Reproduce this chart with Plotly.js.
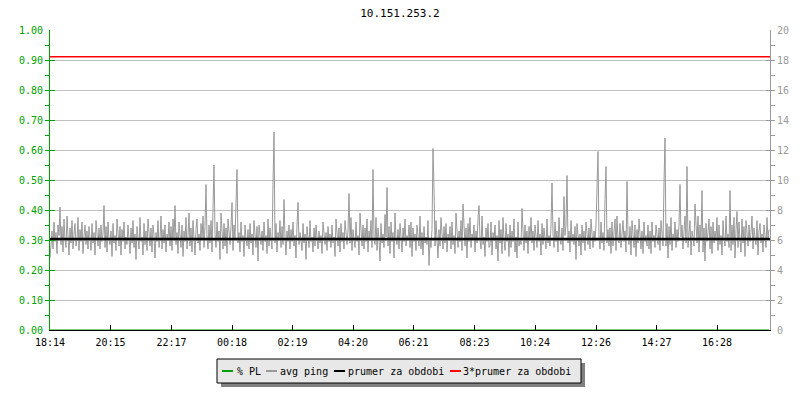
<!DOCTYPE html>
<html>
<head>
<meta charset="utf-8">
<script src="https://cdn.plot.ly/plotly-3.0.1.min.js"></script>
<style>html,body{margin:0;padding:0;background:#fff;}#chart{width:800px;height:400px;}</style>
</head>
<body>
<div id="chart"></div>
<script>
// ---- data ----
const chartTitle = '10.151.253.2';
const stepMinutes = 2;               // one sample every 2 minutes, starting 18:14
const tickLabels = ['18:14','20:15','22:17','00:18','02:19','04:20','06:21','08:23','10:24','12:26','14:27','16:28'];
const seriesNames = ['% PL', 'avg ping', 'prumer za obdobi', '3*prumer za obdobi'];
const seriesColors = ['#00a000', '#999999', '#000000', '#ff0000'];
const avgPing = [
4.8,5.6,6.6,5.4,7.2,5.9,6.5,5.1,7.0,6.3,8.2,5.7,6.9,5.2,7.4,6.0,5.5,7.6,6.2,5.0,6.8,5.8,7.3,5.4,6.4,7.1,5.6,6.0,7.5,5.3,6.7,5.9,7.2,5.1,6.3,7.0,5.7,6.6,5.4,6.9,
6.1,5.3,7.1,5.8,6.5,5.0,7.3,6.2,5.6,6.8,5.4,7.0,5.9,6.4,8.3,5.5,6.9,5.2,7.2,6.0,5.7,6.6,4.9,7.1,5.8,6.3,5.3,7.4,6.1,5.6,6.9,5.0,6.7,5.9,7.2,5.4,6.2,5.7,7.0,6.3,
5.1,6.8,5.8,7.3,5.5,6.4,4.7,6.9,6.0,5.4,7.5,5.9,6.2,5.0,7.1,5.7,6.6,5.3,7.4,6.1,5.6,6.8,5.2,7.0,6.3,4.8,6.5,5.9,7.3,5.5,6.1,7.6,5.4,6.7,5.8,7.0,5.2,6.4,6.0,7.2,
5.6,6.9,5.3,7.4,6.0,8.3,5.7,6.5,5.1,7.2,6.2,5.5,7.0,4.9,6.6,5.9,7.5,5.4,6.3,7.8,5.6,6.8,5.2,7.3,6.1,5.0,6.7,7.4,5.8,6.4,5.3,7.1,6.0,7.6,5.5,6.9,9.7,6.2,5.4,7.0,
5.8,7.3,5.2,8.6,11.0,6.4,5.5,7.2,5.9,6.6,4.7,7.8,6.0,5.4,7.1,5.6,6.8,5.1,7.4,6.2,5.7,6.9,8.5,5.3,7.0,6.1,8.0,10.7,5.8,6.5,5.2,7.2,5.9,6.3,4.9,7.0,6.1,5.6,6.7,5.4,
7.1,5.8,6.4,5.0,7.3,6.2,5.5,6.9,4.6,7.0,6.0,5.7,6.6,5.3,7.2,5.9,6.3,5.1,7.4,5.6,6.8,6.1,5.4,9.7,13.2,5.8,7.1,5.2,6.5,6.0,7.3,5.5,6.9,5.7,8.7,6.2,5.0,6.6,5.9,7.0,
5.4,6.7,5.9,7.2,5.6,6.3,4.8,7.0,8.5,5.7,6.5,6.0,5.3,7.1,5.8,6.4,4.7,6.9,6.1,5.5,7.3,5.9,6.2,5.2,6.8,5.6,7.0,6.0,5.4,6.6,5.8,6.3,5.1,7.2,6.0,5.7,6.5,5.3,6.9,5.9,
6.4,5.5,7.0,5.8,6.2,4.9,7.4,6.0,5.6,6.8,5.2,7.1,5.9,6.5,5.4,7.3,6.1,5.7,6.6,9.1,5.8,7.5,5.3,6.7,6.0,5.5,7.2,5.9,6.3,5.0,7.8,6.2,5.6,7.0,5.4,6.8,5.9,7.4,5.2,6.6,
6.0,7.3,5.5,10.7,6.1,5.7,7.5,5.3,6.8,6.0,4.6,7.1,5.8,6.4,5.5,7.7,6.2,9.5,5.6,6.9,5.1,7.2,5.9,6.5,4.8,7.8,6.0,5.7,6.7,5.4,7.1,6.2,5.2,6.8,5.9,7.4,5.6,6.3,6.0,7.0,
5.5,7.2,4.9,6.8,5.9,6.4,5.3,7.0,6.1,5.6,7.6,5.4,6.5,5.0,6.9,5.8,6.2,5.7,7.3,4.3,6.0,5.5,6.7,12.1,9.4,5.6,7.3,5.9,4.8,6.7,5.6,7.5,6.0,5.4,6.9,5.8,7.1,5.2,6.4,6.0,
6.9,5.4,7.2,5.7,6.3,5.1,7.8,6.0,5.5,6.6,5.9,7.3,5.3,8.4,6.2,5.6,6.8,4.8,7.1,5.9,7.5,5.5,6.4,6.1,7.0,5.2,6.6,5.8,7.4,8.3,6.0,5.4,7.6,5.7,6.2,4.9,6.8,5.9,7.1,5.5,
5.6,7.2,5.0,6.5,6.0,7.0,5.4,6.3,4.6,7.3,5.8,6.7,5.1,7.5,6.0,5.3,7.1,5.9,6.4,4.9,7.0,5.5,6.6,5.9,7.4,5.2,6.2,4.8,7.2,5.6,6.0,5.7,8.1,6.4,5.3,7.0,5.8,6.6,5.1,6.9,
6.0,7.5,5.8,6.6,5.3,7.0,6.2,5.5,7.3,5.9,6.4,5.0,7.1,5.7,6.8,6.1,5.4,7.4,5.8,6.3,5.6,7.0,9.8,6.4,5.5,7.2,5.9,6.6,5.2,7.5,6.0,5.7,6.8,5.3,8.9,6.3,7.0,10.3,5.8,6.6,
5.2,7.3,5.9,6.4,5.7,6.9,4.7,7.1,6.0,5.6,6.4,5.0,7.0,5.8,6.6,5.3,7.2,6.1,5.7,6.8,5.4,7.4,6.0,5.5,6.6,5.9,7.0,8.9,11.9,6.1,5.4,7.2,5.8,6.5,5.3,8.7,10.9,5.8,6.7,5.6,
6.8,5.1,7.2,5.6,6.5,7.4,5.3,7.6,6.0,5.8,7.1,5.5,6.4,7.3,5.9,6.6,5.2,9.9,6.3,5.7,6.9,5.0,7.3,6.2,5.5,7.0,4.9,6.7,5.8,7.4,6.0,5.4,6.6,5.1,7.2,5.9,6.3,5.6,7.0,5.4,
6.6,5.1,7.2,5.9,6.3,5.5,7.0,6.1,5.7,6.8,5.3,7.3,6.0,5.6,9.8,12.8,5.6,7.1,4.8,6.9,5.7,7.5,5.3,6.4,6.0,7.2,5.5,6.7,5.9,7.0,9.7,6.2,7.0,5.4,6.6,7.6,5.8,10.9,5.5,6.8,
7.3,5.0,6.6,6.2,5.6,8.4,6.4,5.8,7.6,5.2,7.0,6.0,9.3,5.2,6.8,4.6,7.1,5.9,6.5,7.4,5.4,6.9,5.1,7.2,5.8,6.6,6.0,7.5,5.3,7.0,5.7,6.3,5.0,7.3,6.1,5.6,7.6,5.9,6.4,5.5,
9.3,5.3,7.0,5.7,7.5,4.8,6.7,7.9,5.5,7.2,6.0,5.2,7.4,5.8,6.9,4.9,7.3,6.2,5.6,7.0,5.9,6.5,7.6,5.4,6.8,6.1,5.7,7.3,5.0,6.6,7.1,5.8,6.4,5.2,7.0,6.3,5.5,7.5,6.0,6.7
];
const packetLossPct = [0, 0];        // % PL (left axis), zero over the whole period
const packetLossMinutes = [0, 1438];
const periodMean = 6.07;             // prumer za obdobi (ms)
const periodMean3 = 18.21;           // 3*prumer za obdobi (ms)
const spanMinutes = [0, 1440];

// ---- build ----
const pingMinutes = avgPing.map((_, i) => i * stepMinutes);
const toMin = s => { const [h, m] = s.split(':').map(Number); return ((h * 60 + m) - (18 * 60 + 14) + 1440) % 1440; };
const tickVals = tickLabels.map(toMin);

const mono = 'DejaVu Sans Mono, monospace';
const traces = [
  {x: packetLossMinutes, y: packetLossPct, type: 'scatter', mode: 'lines', name: seriesNames[0],
   line: {color: seriesColors[0], width: 1}, yaxis: 'y'},
  {x: pingMinutes, y: avgPing, type: 'scatter', mode: 'lines', name: seriesNames[1],
   line: {color: seriesColors[1], width: 1}, yaxis: 'y2'},
  {x: spanMinutes, y: [periodMean, periodMean], type: 'scatter', mode: 'lines', name: seriesNames[2],
   line: {color: seriesColors[2], width: 2.5}, yaxis: 'y2'},
  {x: spanMinutes, y: [periodMean3, periodMean3], type: 'scatter', mode: 'lines', name: seriesNames[3],
   line: {color: seriesColors[3], width: 1.5}, yaxis: 'y2'}
];

// legend drawn as a boxed strip below the plot (pixel layout -> paper coords)
const M = {l: 50, r: 30, t: 30, b: 70}, W = 800, H = 400;
const pw = W - M.l - M.r, ph = H - M.t - M.b;
const px = v => (v - M.l) / pw;
const py = v => (H - M.b - v) / ph;
const legendY = 371;
const legendSym = [[222, 233], [266, 277], [334, 345], [450, 461]];
const legendTextX = [236, 279, 347, 462];
const shapes = [
  {type: 'rect', xref: 'paper', yref: 'paper', x0: px(221), x1: px(585), y0: py(387), y1: py(363),
   fillcolor: '#808080', line: {width: 0}},
  {type: 'rect', xref: 'paper', yref: 'paper', x0: px(217), x1: px(581), y0: py(383), y1: py(359),
   fillcolor: '#e8e8e8', line: {color: '#000', width: 1}}
];
const annotations = [];
seriesNames.forEach((name, k) => {
  shapes.push({type: 'line', xref: 'paper', yref: 'paper', x0: px(legendSym[k][0]), x1: px(legendSym[k][1]),
               y0: py(legendY), y1: py(legendY), line: {color: seriesColors[k], width: 2}});
  annotations.push({xref: 'paper', yref: 'paper', x: px(legendTextX[k]), y: py(legendY), xanchor: 'left', yanchor: 'middle',
                    text: name, showarrow: false, borderpad: 0, font: {family: mono, size: 10, color: '#000'}});
});

const layout = {
  width: W, height: H,
  margin: M,
  paper_bgcolor: '#ffffff', plot_bgcolor: '#ffffff',
  font: {family: mono, size: 10, color: '#000'},
  title: {text: chartTitle, x: 0.5, xref: 'container', xanchor: 'center', y: 0.9675, yref: 'container', yanchor: 'middle',
          font: {family: mono, size: 11, color: '#000'}},
  xaxis: {range: spanMinutes, tickvals: tickVals, ticktext: tickLabels, ticks: 'inside', ticklen: 5,
          tickcolor: '#000', showline: true, linecolor: '#000', linewidth: 1, showgrid: false, zeroline: false,
          ticklabelstandoff: 3, tickfont: {family: mono, size: 10, color: '#000'}, fixedrange: true},
  yaxis: {range: [0, 1], dtick: 0.1, tick0: 0, tickformat: '.2f', ticks: 'inside', ticklen: 5, tickcolor: '#00a000',
          showline: true, linecolor: '#00a000', linewidth: 1, gridcolor: '#c0c0c0', gridwidth: 1, zeroline: false,
          ticklabelstandoff: 4, tickfont: {family: mono, size: 10, color: '#00a000'},
          minor: {dtick: 0.05, ticklen: 4, tickcolor: '#00a000', showgrid: false}, fixedrange: true},
  yaxis2: {range: [0, 20], dtick: 2, tick0: 0, overlaying: 'y', side: 'right', ticks: 'inside', ticklen: 4, tickcolor: '#999',
           showline: true, linecolor: '#999', linewidth: 1, showgrid: false, zeroline: false,
           ticklabelstandoff: 4, tickfont: {family: mono, size: 10, color: '#999'},
           minor: {dtick: 1, ticklen: 4, tickcolor: '#999', showgrid: false}, fixedrange: true},
  showlegend: false,
  shapes: shapes,
  annotations: annotations
};

Plotly.newPlot('chart', traces, layout, {displayModeBar: false, staticPlot: true});
</script>
</body>
</html>
